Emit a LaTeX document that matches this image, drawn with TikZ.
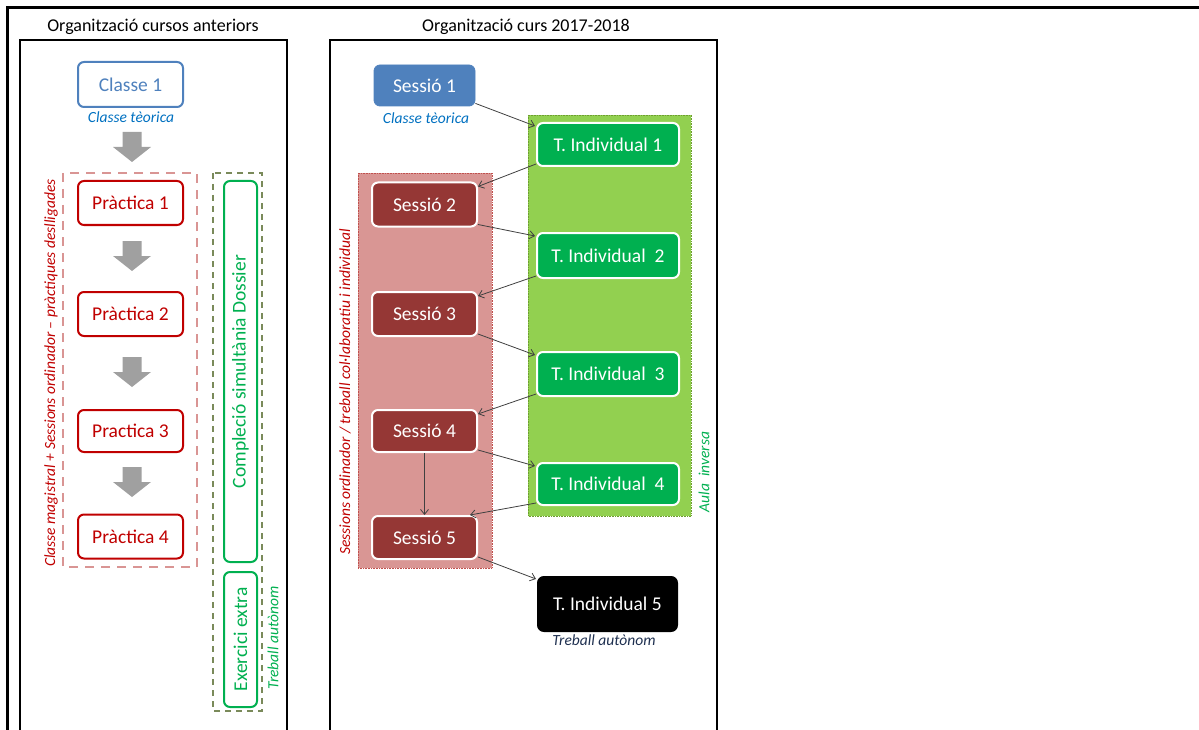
\documentclass[tikz,border=0pt]{standalone}
\usepackage{fontspec}
\setmainfont{Carlito}
\usetikzlibrary{arrows.meta}
\definecolor{bluebox}{HTML}{4F81BD}
\definecolor{bluetext}{HTML}{0070C0}
\definecolor{redbox}{HTML}{C00000}
\definecolor{pinkdash}{HTML}{D99594}
\definecolor{olivedash}{HTML}{7A8A5A}
\definecolor{greenbox}{HTML}{00B050}
\definecolor{pinkfill}{HTML}{D99694}
\definecolor{pinkedge}{HTML}{C0504D}
\definecolor{limefill}{HTML}{92D050}
\definecolor{limeedge}{HTML}{6E9E30}
\definecolor{sessred}{HTML}{953735}
\definecolor{arrowgray}{HTML}{404040}
\definecolor{blockgray}{HTML}{A0A0A0}
\definecolor{navytext}{HTML}{1F3050}
\begin{document}
\begin{tikzpicture}[x=1pt,y=-1pt,
  lbox/.style={draw, line width=2pt, rounded corners=6pt, fill=white, minimum width=105pt, minimum height=44pt, inner sep=0pt, font=\fontsize{19.5}{22}\selectfont},
  sbox/.style={draw=white, line width=2pt, rounded corners=6pt, fill=sessred, text=white, minimum width=105pt, minimum height=44pt, inner sep=0pt, font=\fontsize{19.5}{22}\selectfont},
  tbox/.style={sbox, fill=greenbox, minimum width=142pt, minimum height=43pt},
  vbox/.style={draw=greenbox, text=greenbox, line width=2pt, rounded corners=6pt, fill=white, minimum height=33pt, inner sep=0pt, rotate=90, font=\fontsize{19.5}{22}\selectfont},
  conn/.style={draw=arrowgray, line width=0.8pt, -{Straight Barb[length=5pt,width=8pt]}},
  blockarrow/.style={fill=blockgray},
  capt/.style={font=\fontsize{15.5}{18}\selectfont\itshape, inner sep=0pt},
  side/.style={font=\fontsize{15.5}{17}\selectfont\itshape, rotate=90, inner sep=0pt},
  panel/.style={draw, line width=2.5pt},
  title/.style={font=\fontsize{18}{20}\selectfont, inner sep=0pt}
]
\useasboundingbox (0,0) rectangle (1199,730);
% outer frame
\draw[line width=3pt] (7,735) -- (7,8) -- (1205,8);
% panels
\draw[panel] (20,40) rectangle (287,740);
\draw[panel] (330,40) rectangle (717,740);
\node[title] (tl) at (153,27) {Organització cursos anteriors};
\node[title] (tr) at (526,27) {Organització curs 2017-2018};

% ---------- left panel ----------
\node[lbox, draw=bluebox, text=bluebox, minimum height=45pt] (c1) at (130.5,84.5) {Classe 1};
\node[capt, text=bluetext] (c1cap) at (131,117) {Classe tèorica};
\draw[pinkdash, line width=2pt, dash pattern=on 9pt off 7pt] (63,173) rectangle (197,567);
\draw[olivedash, line width=2pt, dash pattern=on 6pt off 5pt] (213,173) rectangle (262,711);
\node[lbox, draw=redbox, text=redbox] (p1) at (130.5,203) {Pràctica 1};
\node[lbox, draw=redbox, text=redbox] (p2) at (130.5,314) {Pràctica 2};
\node[lbox, draw=redbox, text=redbox, minimum height=42pt] (p3) at (130.5,431) {Practica 3};
\node[lbox, draw=redbox, text=redbox] (p4) at (130.5,536.5) {Pràctica 4};
\foreach \yy in {132,241,357,467}{
  \fill[blockarrow] (122.5,\yy) -- (141.5,\yy) -- (141.5,\yy+15) -- (151,\yy+15) -- (132,\yy+30) -- (113,\yy+15) -- (122.5,\yy+15) -- cycle;
}
\node[side, text=redbox] (lside) at (51,373) {Classe magistral + Sessions ordinador – pràctiques deslligades};
\node[vbox, minimum width=381pt] (dos) at (240.5,371.5) {Compleció simultània Dossier};
\node[vbox, minimum width=135pt] (ext) at (240.5,639.5) {Exercici extra};
\node[side, text=greenbox] (lta) at (273,638) {Treball autònom};

% ---------- right panel ----------
\draw[pinkedge, densely dotted, line width=0.6pt, fill=pinkfill] (358,173) rectangle (492,568);
\draw[limeedge, densely dotted, line width=0.6pt, fill=limefill] (528,115) rectangle (691,516);
\node[sbox, fill=bluebox, draw=bluebox, line width=0.8pt, minimum width=101pt, minimum height=41pt] (s1) at (424.5,85.5) {Sessió 1};
\node[capt, text=bluetext] (s1cap) at (426,118) {Classe tèorica};
\node[sbox] (s2) at (424.5,204.5) {Sessió 2};
\node[sbox] (s3) at (424.5,314) {Sessió 3};
\node[sbox, minimum height=42pt] (s4) at (424.5,431) {Sessió 4};
\node[sbox, minimum height=43pt] (s5) at (424.5,537.5) {Sessió 5};
\node[tbox] (t1) at (608,144.5) {T. Individual 1};
\node[tbox, minimum height=45pt] (t2) at (608,255.5) {T. Individual\ \ 2};
\node[tbox, minimum height=44pt] (t3) at (608,374) {T. Individual\ \ 3};
\node[tbox, minimum height=42pt] (t4) at (608,484) {T. Individual\ \ 4};
\node[tbox, fill=black, draw=black, minimum width=139pt, minimum height=54pt] (t5) at (607.5,604) {T. Individual 5};
\node[capt, text=navytext] (t5cap) at (604,640) {Treball autònom};
\node[side, text=redbox] (rside) at (345,392) {Sessions ordinador / treball col·laboratiu i individual};
\node[side, text=greenbox] (aula) at (704,472) {Aula\ \ inversa};

% connectors
\draw[conn] ([yshift=3pt]s1.south east) -- ([xshift=-1pt,yshift=-4pt]t1.north west);
\draw[conn] ([yshift=3pt]t1.south west) -- ([yshift=-5pt]s2.north east);
\draw[conn] ([yshift=3pt]s2.south east) -- ([xshift=-1pt,yshift=-4pt]t2.north west);
\draw[conn] ([yshift=3pt]t2.south west) -- ([yshift=-5pt]s3.north east);
\draw[conn] ([yshift=3pt]s3.south east) -- ([xshift=-1pt,yshift=-4pt]t3.north west);
\draw[conn] ([yshift=3pt]t3.south west) -- ([yshift=-5pt]s4.north east);
\draw[conn] ([yshift=3pt]s4.south east) -- ([xshift=-1pt,yshift=-4pt]t4.north west);
\draw[conn] ([yshift=3pt]t4.south west) -- ([xshift=-8pt]s5.north east);
\draw[conn] (s4.south) -- (s5.north);
\draw[conn] ([yshift=3pt]s5.south east) -- ([xshift=-1pt,yshift=-3pt]t5.north west);
\end{tikzpicture}
\end{document}
